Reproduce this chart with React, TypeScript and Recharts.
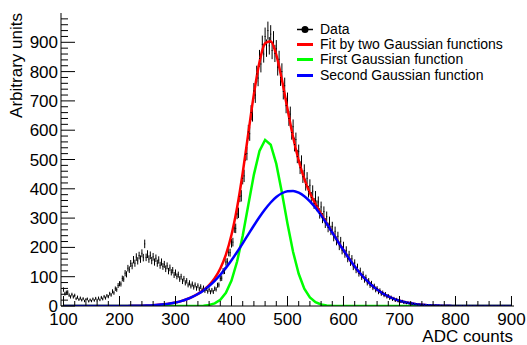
import { ComposedChart, Scatter, Line, XAxis, YAxis, ErrorBar } from 'recharts';

// histogram bins (ADC counts), one value every 2.5 counts from 100 to 900
const BIN_START = 100;
const BIN_STEP = 2.5;
const counts = [
  56, 42, 46, 47, 37, 31, 39, 31, 36, 25,
  30, 22, 27, 20, 25, 17, 22, 24, 16, 21,
  17, 24, 19, 26, 20, 27, 21, 29, 24, 32,
  27, 35, 32, 42, 38, 50, 45, 59, 56, 70,
  76, 75, 94, 92, 112, 108, 129, 124, 145, 137,
  158, 146, 167, 154, 172, 160, 180, 165, 212, 166,
  177, 160, 173, 155, 168, 150, 163, 146, 157, 139,
  150, 135, 142, 127, 137, 119, 130, 115, 122, 106,
  114, 101, 107, 92, 100, 84, 93, 79, 86, 72,
  79, 68, 75, 64, 72, 60, 69, 58, 66, 55,
  62, 52, 59, 49, 56, 47, 54, 48, 59, 57,
  71, 72, 94, 95, 119, 120, 150, 151, 183, 182,
  214, 218, 266, 265, 314, 318, 374, 376, 436, 444,
  518, 520, 594, 588, 660, 655, 734, 720, 792, 778,
  845, 826, 893, 860, 920, 880, 940, 888, 928, 872,
  908, 862, 878, 815, 842, 779, 800, 732, 752, 684,
  702, 640, 655, 592, 612, 551, 568, 510, 528, 472,
  492, 441, 462, 414, 436, 390, 412, 370, 392, 350,
  373, 342, 355, 316, 338, 300, 322, 283, 305, 268,
  288, 258, 271, 236, 255, 222, 238, 205, 221, 190,
  205, 178, 190, 162, 175, 149, 161, 134, 147, 123,
  133, 111, 120, 99, 108, 89, 97, 79, 86, 70,
  77, 62, 68, 54, 60, 47, 53, 41, 46, 36,
  41, 31, 35, 26, 30, 22, 26, 18, 23, 16,
  19, 14, 17, 11, 14, 9, 12, 8, 11, 6,
  8, 5, 7, 4, 6, 3, 5, 3, 5, 2,
  4, 2, 3, 2, 3, 1, 3, 1, 2, 1,
  2, 1, 1, 0, 2, 1, 1, 0, 1, 1,
  0, 1, 1, 0, 0, 1, 0, 0, 1, 0,
  0, 0, 1, 0, 0, 0, 0, 0, 0, 1,
  0, 0, 0, 0, 0, 0, 0, 0, 0, 0,
  0, 0, 0, 0, 0, 0, 0, 0, 0, 0,
  0,
];

// fitted curves, one value every 10 counts from 100 to 900
const CURVE_START = 100;
const CURVE_STEP = 10;
const fitTotal = [
  0, 0, 0, 0, 0, 0, 0, 0, 0.1, 0.1,
  0.2, 0.3, 0.5, 0.8, 1.2, 1.8, 2.7, 4.0, 5.9, 8.5,
  12.0, 16.7, 22.9, 30.8, 41.2, 54.4, 71.6, 95.0, 127.9, 175.3,
  243, 336, 454, 589, 723, 833, 897, 904, 857, 772,
  672, 577, 497, 434, 386, 348, 314, 282, 251, 220,
  190.1, 161.5, 135.1, 111, 89.8, 71.5, 56, 43.1, 32.7, 24.3,
  17.8, 12.8, 9.1, 6.3, 4.4, 2.9, 2.0, 1.3, 0.8, 0.5,
  0.3, 0.2, 0.1, 0, 0, 0, 0, 0, 0, 0,
  0,
];
const firstGauss = [
  0, 0, 0, 0, 0, 0, 0, 0, 0, 0,
  0, 0, 0, 0, 0, 0, 0, 0, 0, 0,
  0, 0, 0, 0, 0.4, 1.2, 3.5, 9.1, 21.3, 45.2,
  86.9, 151.7, 240, 344.5, 448.5, 529.4, 567, 550.5, 485, 387.3,
  280.6, 184.4, 109.9, 59.4, 29.1, 13, 5.2, 1.9, 0.6, 0.2,
  0, 0, 0, 0, 0, 0, 0, 0, 0, 0,
  0, 0, 0, 0, 0, 0, 0, 0, 0, 0,
  0, 0, 0, 0, 0, 0, 0, 0, 0, 0,
  0,
];
const secondGauss = [
  0, 0, 0, 0, 0, 0, 0, 0, 0.1, 0.1,
  0.2, 0.3, 0.5, 0.8, 1.2, 1.8, 2.7, 4.0, 5.9, 8.5,
  12.0, 16.7, 22.9, 30.8, 40.8, 53.2, 68.1, 85.9, 106.6, 130.1,
  156.1, 184.3, 214, 244.5, 274.8, 303.7, 330.2, 353.3, 371.8, 384.8,
  391.8, 392.5, 386.7, 374.8, 357.4, 335.2, 309.3, 280.6, 250.6, 220,
  190.1, 161.5, 135.1, 111, 89.8, 71.5, 56, 43.1, 32.7, 24.3,
  17.8, 12.8, 9.1, 6.3, 4.4, 2.9, 2.0, 1.3, 0.8, 0.5,
  0.3, 0.2, 0.1, 0, 0, 0, 0, 0, 0, 0,
  0,
];

const X_DOMAIN: [number, number] = [95.5, 904.5];
const Y_DOMAIN: [number, number] = [0, 1000];
const xTicks = Array.from({ length: 41 }, (_, i) => 100 + i * 20);
const yTicks = Array.from({ length: 50 }, (_, i) => i * 20);

const legendItems = [
  { label: 'Data', color: '#000000', dot: true },
  { label: 'Fit by two Gaussian functions', color: '#ff0000' },
  { label: 'First Gaussian function', color: '#00ff00' },
  { label: 'Second Gaussian function', color: '#0000ff' },
];

const FONT = '"Liberation Sans", Arial, Helvetica, sans-serif';

const points = counts.map((c, i) => ({ x: BIN_START + i * BIN_STEP, y: c, err: Math.sqrt(c) }));
const toCurve = (vals: number[]) => vals.map((v, i) => ({ x: CURVE_START + i * CURVE_STEP, y: v }));

function BottomTick({ x, y, payload }: any) {
  const major = payload.value % 100 === 0;
  return (
    <g>
      <line x1={x} x2={x} y1={y} y2={y - (major ? 10 : 5)} stroke="#000" />
      {major && (
        <text x={x} y={y + 19} textAnchor="middle" fontSize={17} fontFamily={FONT} fill="#000">
          {payload.value}
        </text>
      )}
    </g>
  );
}

function TopTick({ x, y, payload }: any) {
  const major = payload.value % 100 === 0;
  return <line x1={x} x2={x} y1={y} y2={y + (major ? 9 : 4.5)} stroke="#000" />;
}

function LeftTick({ x, y, payload }: any) {
  const major = payload.value % 100 === 0;
  return (
    <g>
      <line x1={x} x2={x + (major ? 14 : 7)} y1={y} y2={y} stroke="#000" />
      {major && (
        <text x={x - 3} y={y + 6} textAnchor="end" fontSize={17} fontFamily={FONT} fill="#000">
          {payload.value}
        </text>
      )}
    </g>
  );
}

function RightTick({ x, y, payload }: any) {
  const major = payload.value % 100 === 0;
  return <line x1={x} x2={x - (major ? 10.5 : 5)} y1={y} y2={y} stroke="#000" />;
}

const dotShape = (p: any) => <rect x={p.cx - 0.5} y={p.cy - 0.5} width={1} height={1} fill="#000" />;

export default function App() {
  return (
    <div style={{ position: 'absolute', left: 0, top: 0, width: 527, height: 345, background: '#fff' }}>
      <ComposedChart width={527} height={345} margin={{ top: 13, right: 13, bottom: 0, left: 0 }}>
        <XAxis xAxisId="b" dataKey="x" type="number" domain={X_DOMAIN} allowDataOverflow ticks={xTicks} interval={0}
          height={39} tickSize={0} tickMargin={0} tickLine={false} axisLine={{ stroke: '#000' }} tick={<BottomTick />} />
        <XAxis xAxisId="t" orientation="top" dataKey="x" type="number" domain={X_DOMAIN} allowDataOverflow ticks={xTicks} interval={0}
          height={0} tickSize={0} tickMargin={0} tickLine={false} axisLine={{ stroke: '#000' }} tick={<TopTick />} />
        <YAxis yAxisId="l" dataKey="y" type="number" domain={Y_DOMAIN} allowDataOverflow ticks={yTicks} interval={0}
          width={61} tickSize={0} tickMargin={0} tickLine={false} axisLine={{ stroke: '#000' }} tick={<LeftTick />} />
        <YAxis yAxisId="r" orientation="right" dataKey="y" type="number" domain={Y_DOMAIN} allowDataOverflow ticks={yTicks} interval={0}
          width={0} tickSize={0} tickMargin={0} tickLine={false} axisLine={{ stroke: '#000' }} tick={<RightTick />} />
        <Scatter xAxisId="b" yAxisId="l" data={points} shape={dotShape} isAnimationActive={false}>
          <ErrorBar dataKey="err" direction="y" width={0} stroke="#000" strokeWidth={1} />
        </Scatter>
        <Line xAxisId="b" yAxisId="l" data={toCurve(fitTotal)} dataKey="y" type="monotone" stroke="#ff0000" strokeWidth={2.5} dot={false} isAnimationActive={false} />
        <Line xAxisId="b" yAxisId="l" data={toCurve(firstGauss)} dataKey="y" type="linear" stroke="#00ff00" strokeWidth={2.5} dot={false} isAnimationActive={false} />
        <Line xAxisId="b" yAxisId="l" data={toCurve(secondGauss)} dataKey="y" type="monotone" stroke="#0000ff" strokeWidth={2.5} dot={false} isAnimationActive={false} />
      </ComposedChart>
      <svg width={527} height={345} style={{ position: 'absolute', left: 0, top: 0, pointerEvents: 'none' }}>
        <text x={22} y={13} transform="rotate(-90 22 13)" textAnchor="end" fontSize={17} fontFamily={FONT} fill="#000">
          Arbitrary units
        </text>
        <text x={513} y={341.5} textAnchor="end" fontSize={17} fontFamily={FONT} fill="#000">
          ADC counts
        </text>
      </svg>
      <div style={{ position: 'absolute', left: 296, top: 22, fontFamily: FONT, fontSize: 14, lineHeight: '15px', color: '#000', background: '#fff' }}>
        {legendItems.map((it) => (
          <div key={it.label} style={{ display: 'flex', alignItems: 'center', height: 15.2, whiteSpace: 'nowrap' }}>
            <svg width={18} height={15}>
              <line x1={1} x2={17} y1={7.5} y2={7.5} stroke={it.color} strokeWidth={it.dot ? 1.5 : 3} />
              {it.dot && <circle cx={9} cy={7.5} r={3.5} fill="#000" />}
            </svg>
            <span style={{ marginLeft: 6 }}>{it.label}</span>
          </div>
        ))}
      </div>
    </div>
  );
}
